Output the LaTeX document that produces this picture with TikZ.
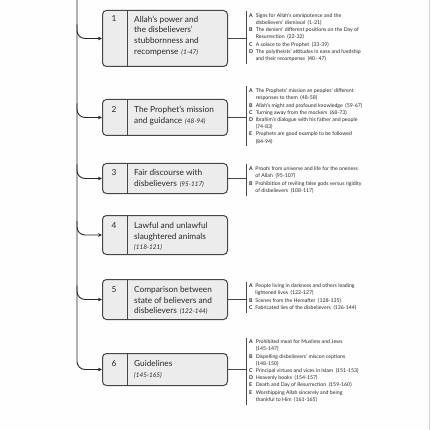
\documentclass[tikz,border=0pt]{standalone}
\usepackage{fontspec}
\setmainfont{Lato}
\usetikzlibrary{arrows.meta, positioning, calc}
\definecolor{mydark}{RGB}{40,40,40}
\definecolor{myline}{RGB}{70,70,70}
\definecolor{myfill}{RGB}{236,236,236}
\definecolor{myedge}{RGB}{212,212,212}
\definecolor{mypaper}{RGB}{254,254,254}
\newcommand{\rng}[1]{\hspace{0.35em}{\fontsize{6.4}{8}\selectfont\itshape #1}}
\newcommand{\itm}[1]{\textbf{#1}}
\tikzset{
  secbox/.style={rectangle, draw=myline, fill=myfill, rounded corners=4pt,
    line width=1pt, minimum width=125pt, anchor=north west, inner sep=0pt},
  secnum/.style={anchor=north, font=\fontsize{8.3}{10.7}\selectfont,
    text=mydark, inner sep=0pt},
  sectext/.style={anchor=north west, align=left,
    font=\fontsize{8.3}{10.7}\selectfont, text=mydark, inner sep=0pt},
  sublist/.style={anchor=north west, align=left,
    font=\fontsize{5.2}{7.2}\selectfont, text=mydark, inner xsep=3pt, inner ysep=1pt},
  arrow/.style={-{Stealth[length=4pt,width=3.6pt]}, line width=0.9pt,
    color=mydark, rounded corners=8pt},
  conline/.style={line width=0.8pt, color=myline},
  divline/.style={line width=1pt, color=myline}
}
\begin{document}
\begin{tikzpicture}[x=1pt, y=-1pt]
  \fill[mypaper] (0,0) rectangle (430,430);
  \useasboundingbox (0,0) rectangle (430,430);
  \draw[myedge, line width=0.6pt] (429,0) -- (429,430);
  % section boxes
  \node[secbox, minimum height=56pt] (b1) at (102,10) {};
  \node[secbox, minimum height=36pt] (b2) at (102,99) {};
  \node[secbox, minimum height=30pt] (b3) at (102,163) {};
  \node[secbox, minimum height=39pt] (b4) at (102,215) {};
  \node[secbox, minimum height=40pt] (b5) at (102,279) {};
  \node[secbox, minimum height=32pt] (b6) at (102,353) {};
  \foreach \s in {b1,b2,b3,b4,b5,b6}
    \draw[divline] ($(\s.north west)+(25,0)$) -- ($(\s.south west)+(25,0)$);
  \node[secnum] (n1) at ($(b1.north west)+(12,5.5)$) {1};
  \node[sectext] (t1) at ($(b1.north west)+(32,5.5)$)
    {Allah's power and\\the disbelievers'\\stubbornness and\\recompense\rng{(1-47)}};
  \node[secnum] (n2) at ($(b2.north west)+(12,7)$) {2};
  \node[sectext] (t2) at ($(b2.north west)+(32,7)$)
    {The Prophet's mission\\and guidance\rng{(48-94)}};
  \node[secnum] (n3) at ($(b3.north west)+(12,6)$) {3};
  \node[sectext] (t3) at ($(b3.north west)+(32,6)$)
    {Fair discourse with\\disbelievers\rng{(95-117)}};
  \node[secnum] (n4) at ($(b4.north west)+(12,7)$) {4};
  \node[sectext] (t4) at ($(b4.north west)+(32,7)$)
    {Lawful and unlawful\\slaughtered animals\\{\fontsize{6.4}{8}\selectfont\itshape (118-121)}};
  \node[secnum] (n5) at ($(b5.north west)+(12,7)$) {5};
  \node[sectext] (t5) at ($(b5.north west)+(32,7)$)
    {Comparison between\\state of believers and\\disbelievers\rng{(122-144)}};
  \node[secnum] (n6) at ($(b6.north west)+(12,7)$) {6};
  \node[sectext] (t6) at ($(b6.north west)+(32,7)$)
    {Guidelines\\{\fontsize{6.4}{8}\selectfont\itshape (145-165)}};
  % trunk and branches
  \coordinate (top) at (77,0);
  \draw[arrow] (top) |- (b6.west);
  \foreach \s in {b1,b2,b3,b4,b5}
    \draw[arrow] ($(top |- \s.west)+(0,-14)$) |- (\s.west);
  % sub-topic lists
  \node[sublist] (l1) at (246,11) {\begin{tabular}{@{}l@{\hspace{2.6pt}}l@{}}
    \itm{A} & Signs for Allah's omnipotence and the\\
           & disbelievers' dismissal\hspace{0.5em}(1-21)\\
    \itm{B} & The deniers' different positions on the Day of\\
           & Resurrection\hspace{0.5em}(22-32)\\
    \itm{C} & A solace to the Prophet\hspace{0.5em}(33-39)\\
    \itm{D} & The polytheists' attitudes in ease and hardship\\
           & and their recompense\hspace{0.5em}(40- 47)
  \end{tabular}};
  \node[sublist] (l2) at (246,86.5) {\begin{tabular}{@{}l@{\hspace{2.6pt}}l@{}}
    \itm{A} & The Prophets' mission an peoples' different\\
           & responses to them\hspace{0.5em}(48-58)\\
    \itm{B} & Allah's might and profound knowledge\hspace{0.5em}(59-67)\\
    \itm{C} & Turning away from the mockers\hspace{0.5em}(68-73)\\
    \itm{D} & Ibrahim's dialogue with his father and people\\
           & (74-83)\\
    \itm{E} & Prophets are good example to be followed\\
           & (84-94)
  \end{tabular}};
  \node[sublist] (l3) at (246,164.5) {\begin{tabular}{@{}l@{\hspace{2.6pt}}l@{}}
    \itm{A} & Proofs from universe and life for the oneness\\
           & of Allah\hspace{0.5em}(95-107)\\
    \itm{B} & Prohibition of reviling false gods versus rigidity\\
           & of disbelievers\hspace{0.5em}(108-117)
  \end{tabular}};
  \node[sublist] (l5) at (246,281.5) {\begin{tabular}{@{}l@{\hspace{2.6pt}}l@{}}
    \itm{A} & People living in darkness and others leading\\
           & lightened lives\hspace{0.5em}(122-127)\\
    \itm{B} & Scenes from the Hereafter\hspace{0.5em}(128-135)\\
    \itm{C} & Fabricated lies of the disbelievers\hspace{0.5em}(136-144)
  \end{tabular}};
  \node[sublist] (l6) at (246,337.5) {\begin{tabular}{@{}l@{\hspace{2.6pt}}l@{}}
    \itm{A} & Prohibited meat for Muslims and Jews\\
           & (145-147)\\
    \itm{B} & Dispelling disbelievers' miscon ceptions\\
           & (148-150)\\
    \itm{C} & Principal virtues and vices in Islam\hspace{0.5em}(151-153)\\
    \itm{D} & Heavenly books\hspace{0.5em}(154-157)\\
    \itm{E} & Death and Day of Resurrection\hspace{0.5em}(159-160)\\
    \itm{E} & Worshipping Allah sincerely and being\\
           & thankful to Him\hspace{0.5em}(161-165)
  \end{tabular}};
  % brackets and connectors
  \foreach \l/\s in {l1/b1,l2/b2,l3/b3,l5/b5,l6/b6} {
    \draw[conline] (\l.north west) -- (\l.south west);
    \draw[conline] (\s.east) -- (\s.east -| \l.west);
  }
\end{tikzpicture}
\end{document}
